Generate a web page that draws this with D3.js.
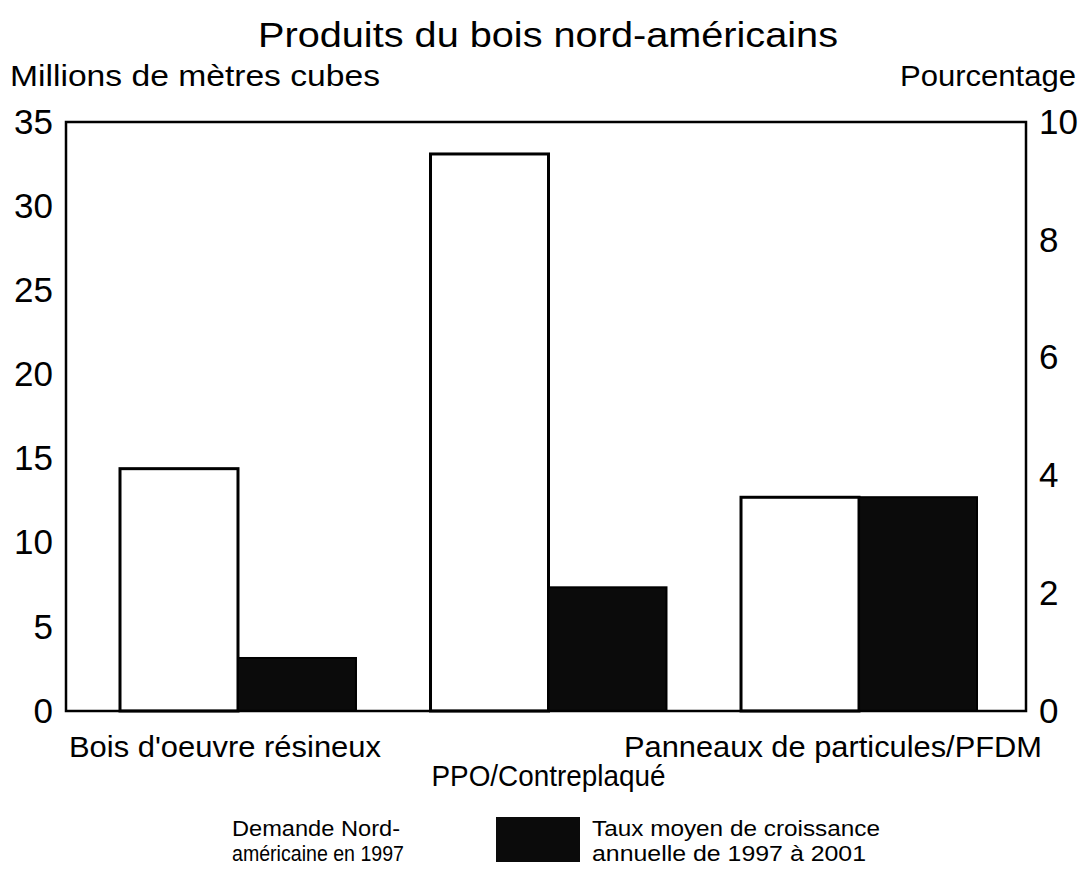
<!DOCTYPE html>
<html>
<head>
<meta charset="utf-8">
<script src="https://cdn.jsdelivr.net/npm/d3@7"></script>
<style>
  body { margin: 0; background: #fff; overflow: hidden; }
  svg { font-family: Arial, "Liberation Sans", sans-serif; display: block; }
</style>
</head>
<body>
<div id="chart"></div>
<script>
// Data
const categories = ["Bois d'oeuvre résineux", "PPO/Contreplaqué", "Panneaux de particules/PFDM"];
const demand1997 = [14.4, 33.1, 12.7];      // millions de mètres cubes (left axis)
const growthRate = [0.9, 2.1, 3.63];        // pourcentage (right axis)
const leftTicks = [0, 5, 10, 15, 20, 25, 30, 35];
const rightTicks = [0, 2, 4, 6, 8, 10];

const width = 1083, height = 869;
const frame = { left: 66, right: 1026, top: 122, bottom: 711 };

const svg = d3.select('#chart').append('svg')
    .attr('width', width).attr('height', height);

const x = d3.scaleBand()
    .domain(categories)
    .range([120, 977])
    .paddingInner(0.24)
    .paddingOuter(0);
const bw = x.bandwidth() / 2;

const yL = d3.scaleLinear().domain([0, 35]).range([frame.bottom, frame.top]);
const yR = d3.scaleLinear().domain([0, 10]).range([frame.bottom, frame.top]);

// helper: text stretched to the width seen in the original
function label(sel, txt, px, py, size, len, anchor) {
    return sel.append('text')
        .attr('x', px).attr('y', py)
        .attr('text-anchor', anchor || 'start')
        .attr('textLength', len)
        .attr('lengthAdjust', 'spacingAndGlyphs')
        .style('font-size', size + 'px')
        .text(txt);
}

// title + axis titles
label(svg, 'Produits du bois nord-américains', 548, 47, 35, 580, 'middle');
label(svg, 'Millions de mètres cubes', 10, 86, 29, 370);
label(svg, 'Pourcentage', 1076, 86, 29, 176, 'end');

// bars
const g = svg.append('g');
g.selectAll('rect.demand')
    .data(demand1997)
    .join('rect')
    .classed('demand', true)
    .attr('x', (d, i) => x(categories[i]))
    .attr('y', d => yL(d))
    .attr('width', bw)
    .attr('height', d => yL(0) - yL(d))
    .attr('fill', '#fff')
    .attr('stroke', '#000')
    .attr('stroke-width', 3);

g.selectAll('rect.growth')
    .data(growthRate)
    .join('rect')
    .classed('growth', true)
    .attr('x', (d, i) => x(categories[i]) + bw)
    .attr('y', d => yR(d))
    .attr('width', bw)
    .attr('height', d => yR(0) - yR(d))
    .attr('fill', '#0b0b0b')
    .attr('stroke', '#000')
    .attr('stroke-width', 2);

// frame
svg.append('rect')
    .attr('x', frame.left).attr('y', frame.top)
    .attr('width', frame.right - frame.left)
    .attr('height', frame.bottom - frame.top)
    .attr('fill', 'none')
    .attr('stroke', '#000')
    .attr('stroke-width', 2.5);

// axes (labels only, no tick marks)
const axL = svg.append('g')
    .attr('transform', `translate(${frame.left},0)`)
    .call(d3.axisLeft(yL).tickValues(leftTicks).tickSize(0).tickPadding(13));
const axR = svg.append('g')
    .attr('transform', `translate(${frame.right},0)`)
    .call(d3.axisRight(yR).tickValues(rightTicks).tickSize(0).tickPadding(13));
[axL, axR].forEach(a => {
    a.select('.domain').remove();
    a.selectAll('text')
        .style('font-size', '35px')
        .style('font-family', 'Arial, "Liberation Sans", sans-serif')
        .attr('fill', '#000');
});

// category labels
const labelPos = [[-13, 757, 312], [0, 786, 234], [-26, 757, 418]];
svg.selectAll('text.cat')
    .data(categories)
    .join('text')
    .classed('cat', true)
    .attr('x', (d, i) => x(d) + x.bandwidth() / 2 + labelPos[i][0])
    .attr('y', (d, i) => labelPos[i][1])
    .attr('text-anchor', 'middle')
    .attr('textLength', (d, i) => labelPos[i][2])
    .attr('lengthAdjust', 'spacingAndGlyphs')
    .style('font-size', '29px')
    .text(d => d);

// legend
const legend = svg.append('g');
label(legend, 'Demande Nord-', 232, 836, 22, 168);
label(legend, 'américaine en 1997', 232, 861, 22, 172);
legend.append('rect')
    .attr('x', 496).attr('y', 817)
    .attr('width', 84).attr('height', 45)
    .attr('fill', '#0b0b0b');
label(legend, 'Taux moyen de croissance', 592, 836, 22, 288);
label(legend, 'annuelle de 1997 à 2001', 592, 861, 22, 274);
</script>
</body>
</html>
